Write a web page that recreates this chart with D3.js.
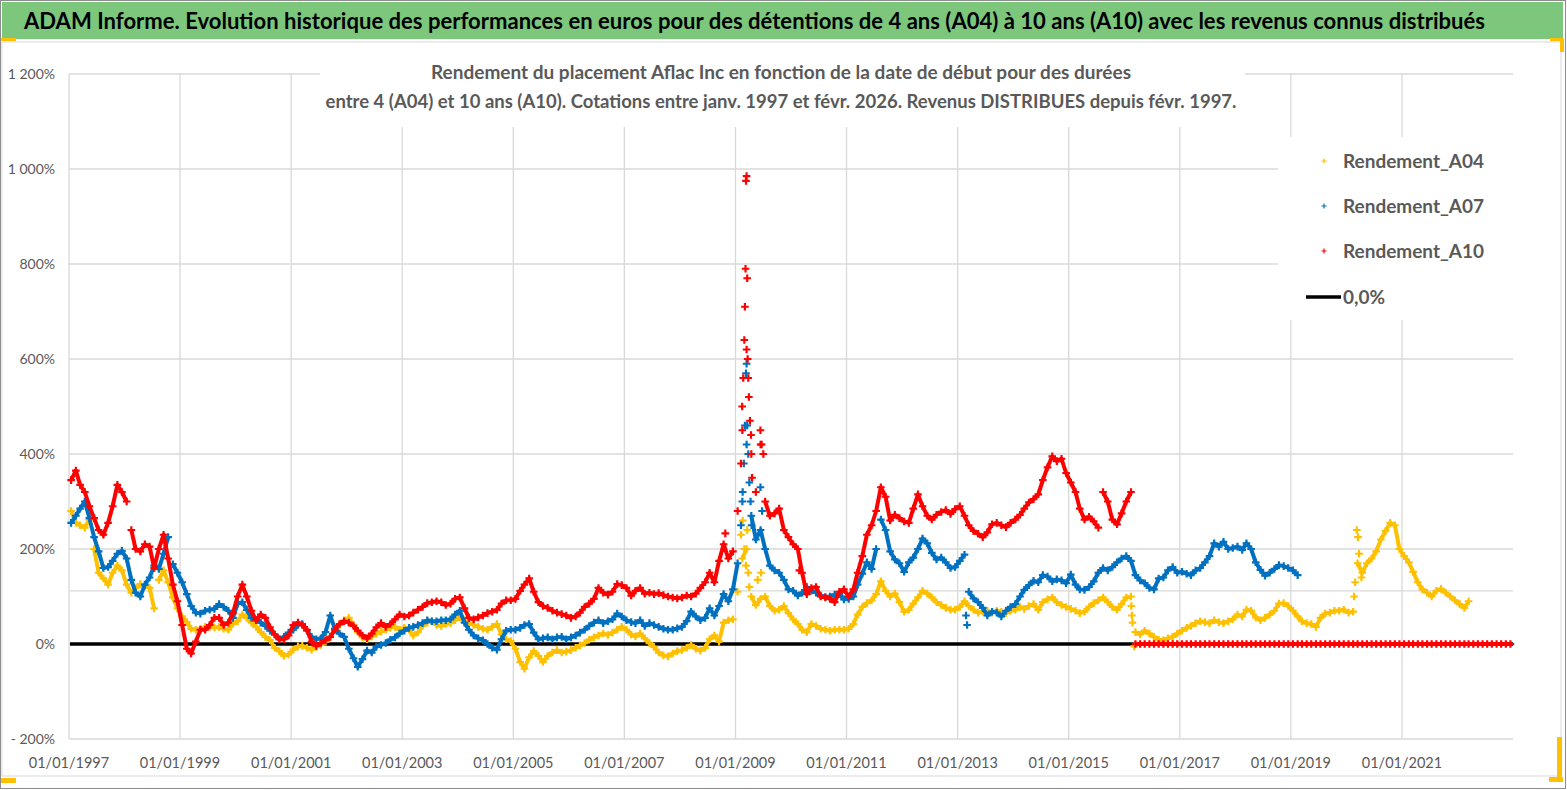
<!DOCTYPE html>
<html>
<head>
<meta charset="utf-8">
<script src="https://cdn.jsdelivr.net/npm/d3@7"></script>
<style>
  body { margin: 0; background: #fff; }
  svg { display: block; font-family: Lato, "Open Sans", sans-serif; }
</style>
</head>
<body>
<svg id="chart" width="1567" height="790"></svg>
<script>
// monthly values (%), first value = Jan 1997
var a04 = [
  280,255,250,245,262,200,150,138,125,150,165,155,
  125,108,118,126,122,118,75,135,155,130,98,75,
  58,46,32,30,32,36,36,35,36,32,30,42,
  48,62,55,45,36,25,15,8,-8,-15,-25,-22,
  -12,-5,-4,-8,-12,-6,-2,5,15,32,40,50,
  55,40,25,14,10,16,22,26,30,34,36,30,
  34,30,18,25,38,45,48,40,38,42,44,50,
  56,50,44,40,36,32,30,36,42,20,10,6,
  -10,-38,-52,-28,-15,-25,-38,-25,-18,-13,-18,-16,
  -13,-8,-3,2,9,14,18,22,19,24,30,36,
  30,20,16,22,12,2,-6,-18,-24,-26,-20,-15,
  -13,-8,-2,-10,-14,-8,10,18,5,45,50,52,
  110,180,200,100,82,95,100,80,70,72,80,65,
  52,42,30,25,42,38,32,30,28,30,30,30,
  32,42,62,78,86,92,105,132,112,100,106,88,
  68,72,85,98,112,106,98,88,82,76,72,72,
  78,90,80,72,66,68,70,66,70,68,65,70,
  72,78,74,80,84,72,88,94,98,88,82,78,
  74,70,65,68,78,86,92,98,88,78,72,84,
  98,100,25,20,28,22,15,9,8,12,15,22,
  28,34,38,44,48,46,44,50,46,44,48,52,
  62,58,72,70,56,50,55,62,70,85,86,80,
  70,58,48,44,42,36,55,64,66,70,70,72,
  66,68,170,150,170,180,195,220,238,255,250,200,
  185,172,152,130,115,108,100,112,116,108,100,92,
  84,76,90
];
var a07 = [
  255,270,285,300,265,225,195,160,162,175,190,196,
  180,135,108,100,125,140,165,158,190,225,168,150,
  130,105,80,66,64,70,72,74,84,78,70,55,
  85,88,72,55,50,45,38,28,20,10,15,24,
  30,40,42,28,15,10,12,25,60,32,22,15,
  -10,-30,-48,-32,-14,-18,-6,-2,2,9,14,22,
  28,34,36,40,44,50,48,48,50,50,52,62,
  70,45,30,18,12,8,0,-8,-12,10,28,30,
  30,34,40,42,24,10,12,14,10,14,15,10,
  14,18,24,30,38,45,50,44,48,52,64,58,
  50,46,44,50,38,44,40,36,32,30,30,33,
  36,48,68,58,50,55,75,60,80,105,90,115,
  170,300,420,270,220,240,200,165,155,150,135,115,
  112,102,108,120,112,108,102,99,100,104,105,94,
  95,100,125,148,172,158,200,262,240,195,178,170,
  152,172,182,200,222,212,192,178,182,172,160,162,
  175,188,110,96,88,76,60,68,66,58,70,78,
  84,100,114,124,133,130,145,142,132,136,134,128,
  146,125,115,114,120,132,150,160,155,162,172,180,
  185,175,145,134,128,118,115,138,140,155,162,150,
  152,148,145,155,160,172,185,212,205,215,200,202,
  205,198,212,200,172,156,144,150,158,166,164,160,
  155,145
];
var a10 = [
  345,365,335,320,290,265,240,230,255,290,335,320,
  300,240,200,195,210,205,160,200,230,180,125,90,
  40,-10,-20,5,30,30,40,55,55,40,45,65,
  100,125,100,70,50,62,55,35,20,10,10,18,
  40,45,40,30,5,-4,2,8,15,30,42,48,
  45,38,28,18,12,22,35,44,36,42,52,62,
  58,60,66,72,78,86,88,90,88,82,85,95,
  98,75,55,52,56,60,65,68,72,85,92,92,
  95,112,125,138,110,88,80,76,70,66,63,60,
  55,58,66,78,85,95,118,108,104,110,126,124,
  118,102,112,118,106,108,105,107,103,100,98,96,
  98,102,100,106,118,130,150,130,175,210,180,195,
  280,450,620,400,320,420,300,270,275,285,240,225,
  210,200,150,105,118,120,100,98,95,88,110,115,
  100,115,150,185,230,250,280,330,310,260,272,265,
  258,255,285,315,290,270,262,272,278,282,274,284,
  290,270,250,238,232,225,235,252,255,250,246,255,
  262,272,285,298,305,315,345,372,395,385,390,360,
  340,320,285,262,268,258,245,320,300,262,252,275,
  300,320
];
// A10 after Feb 2016: no 10-year return yet, plotted at 0 (Mar 2016 .. Dec 2022)
var a10Tail = [
  0,0,0,0,0,0,0,0,0,0,
  0,0,0,0,0,0,0,0,0,0,0,0,
  0,0,0,0,0,0,0,0,0,0,0,0,
  0,0,0,0,0,0,0,0,0,0,0,0,
  0,0,0,0,0,0,0,0,0,0,0,0,
  0,0,0,0,0,0,0,0,0,0,0,0,
  0,0,0,0,0,0,0,0,0,0,0,0
];

// scattered points of the fast moves (decimal year, value)
var a04ExtraT = [2009.10,2009.13,2009.16,2009.19,2009.21,2009.23,2009.25,2009.40,2009.46,2016.13,2016.14,2016.15,2016.18,2020.14,2020.16,2020.19,2020.21,2020.23,2020.27];
var a04ExtraV = [230,260,200,165,240,150,120,135,150,80,60,45,-5,100,130,240,225,190,140];
var a07ExtraT = [2009.10,2009.13,2009.15,2009.17,2009.19,2009.20,2009.21,2009.23,2009.25,2009.27,2009.29,2009.45,2009.48,2013.15,2013.17];
var a07ExtraV = [250,320,380,460,570,590,460,400,340,300,250,330,280,60,40];
var a10ExtraT = [2008.82,2009.10,2009.12,2009.14,2009.16,2009.17,2009.18,2009.19,2009.20,2009.21,2009.22,2009.23,2009.24,2009.26,2009.28,2009.30,2009.45,2009.47,2009.50,2010.15];
var a10ExtraV = [233,380,500,560,640,710,790,975,985,770,600,560,520,470,440,350,450,420,400,155];

var yTicks = [-200,0,200,400,600,800,1000,1200];
var refLines = [112];
var xTickYears = [1997,1999,2001,2003,2005,2007,2009,2011,2013,2015,2017,2019,2021];

var seriesNames = ["Rendement_A04","Rendement_A07","Rendement_A10"];
var seriesColors = ["#FFC000","#0070C0","#FF0000"];

var chartTitle = "ADAM Informe. Evolution historique des performances en euros pour des détentions de 4 ans (A04) à 10 ans (A10) avec les revenus connus distribués";
var subTitle1 = "Rendement du placement Aflac Inc en fonction de la date de début pour des durées";
var subTitle2 = "entre 4 (A04) et 10 ans (A10). Cotations entre janv. 1997 et févr. 2026. Revenus DISTRIBUES depuis févr. 1997.";

function monthDate(i) { return new Date(1997, i, 15); }
function decDate(t) {
  var yr = Math.floor(t);
  return new Date(yr, 0, 1 + Math.round((t - yr) * 365));
}
function fmtPct(v) {
  if (v < 0) return "- " + Math.abs(v) + "%";
  return d3.format(",")(v).replace(",", " ") + "%";
}

var svg = d3.select("#chart");
var gray = "#595959";

var x = d3.scaleTime()
    .domain([new Date(1997,0,1), new Date(2023,0,1)])
    .range([69, 1513]);
var y = d3.scaleLinear()
    .domain([-200, 1200])
    .range([739, 74]);

// frame and title band
svg.append("rect").attr("x",0.5).attr("y",0.5).attr("width",1565).attr("height",788)
    .attr("fill","#fff").attr("stroke","#8c8c8c");
svg.append("rect").attr("x",2).attr("y",2).attr("width",1561).attr("height",37)
    .attr("fill","#7dc77d");
svg.append("rect").attr("x",2).attr("y",42).attr("width",1559).attr("height",734)
    .attr("fill","none").attr("stroke","#d9d9d9");
svg.append("text")
    .attr("x",24).attr("y",29)
    .attr("textLength",1461).attr("lengthAdjust","spacingAndGlyphs")
    .style("font-size","22px").style("font-weight","bold").style("fill","#000")
    .text(chartTitle);

// orange corner marks
var corner = "#FFC000";
svg.append("rect").attr("x",1).attr("y",38).attr("width",15).attr("height",3).attr("fill",corner);
svg.append("rect").attr("x",1550).attr("y",38).attr("width",14).attr("height",3).attr("fill",corner);
svg.append("rect").attr("x",1560).attr("y",38).attr("width",4).attr("height",14).attr("fill",corner);
svg.append("rect").attr("x",1).attr("y",778).attr("width",15).attr("height",5).attr("fill",corner);
svg.append("rect").attr("x",1549).attr("y",777).attr("width",14).attr("height",5).attr("fill",corner);
svg.append("rect").attr("x",1557).attr("y",737).attr("width",5).attr("height",45).attr("fill",corner);

// gridlines
var grid = svg.append("g");
grid.selectAll(".hg").data(yTicks.concat(refLines)).enter().append("line")
    .attr("x1",69).attr("x2",1513)
    .attr("y1",function(d){ return y(d); }).attr("y2",function(d){ return y(d); })
    .attr("stroke","#d9d9d9").attr("stroke-width",1.3);
grid.selectAll(".vg").data(xTickYears).enter().append("line")
    .attr("x1",function(d){ return x(new Date(d,0,1)); })
    .attr("x2",function(d){ return x(new Date(d,0,1)); })
    .attr("y1",y(1200)).attr("y2",y(-200))
    .attr("stroke","#d9d9d9").attr("stroke-width",1.3);

// y axis labels
svg.append("g").selectAll("text").data(yTicks).enter().append("text")
    .attr("x",55).attr("y",function(d){ return y(d) + 5; })
    .attr("text-anchor","end")
    .style("font-size","14px").style("fill",gray)
    .text(fmtPct);

// x axis labels
var fmtDate = d3.timeFormat("%d/%m/%Y");
svg.append("g").selectAll("text").data(xTickYears).enter().append("text")
    .attr("x",function(d){ return x(new Date(d,0,1)); }).attr("y",768)
    .attr("text-anchor","middle")
    .style("font-size","14.5px").style("fill",gray)
    .text(function(d){ return fmtDate(new Date(d,0,1)); });

// subtitle box
svg.append("rect").attr("x",320).attr("y",56).attr("width",925).attr("height",71).attr("fill","#fff");
svg.append("text").attr("x",781).attr("y",79).attr("text-anchor","middle")
    .attr("textLength",700).attr("lengthAdjust","spacingAndGlyphs")
    .style("font-size","18px").style("font-weight","bold").style("fill",gray)
    .text(subTitle1);
svg.append("text").attr("x",781).attr("y",108).attr("text-anchor","middle")
    .attr("textLength",911).attr("lengthAdjust","spacingAndGlyphs")
    .style("font-size","18px").style("font-weight","bold").style("fill",gray)
    .text(subTitle2);

// zero line
svg.append("line")
    .attr("x1",70).attr("x2",1513).attr("y1",y(0)).attr("y2",y(0))
    .attr("stroke","#000").attr("stroke-width",3.5);

// build point lists
function monthly(vals, offset) {
  return vals.map(function(v, i){ return { d: monthDate(i + offset), v: v }; });
}
function extras(ts, vs) {
  return ts.map(function(t, i){ return { d: decDate(t), v: vs[i] }; });
}
var mainPts = [
  monthly(a04, 0),
  monthly(a07, 0),
  monthly(a10, 0).concat(monthly(a10Tail, a10.length))
];
var extraPts = [
  extras(a04ExtraT, a04ExtraV),
  extras(a07ExtraT, a07ExtraV),
  extras(a10ExtraT, a10ExtraV)
];

// the daily markers form a dense band: a thick trace under the monthly markers,
// broken where the value jumps
var band = d3.line()
    .x(function(p){ return x(p.d); })
    .y(function(p){ return y(p.v); });

var cross = "M-3.8,0H3.8M0,-3.8V3.8";
mainPts.forEach(function(list, k) {
  var segs = [[list[0]]];
  for (var i = 1; i < list.length; i++) {
    if (Math.abs(list[i].v - list[i-1].v) > 55) segs.push([]);
    segs[segs.length-1].push(list[i]);
  }
  var g = svg.append("g");
  segs.forEach(function(s){
    if (s.length > 1) {
      g.append("path").attr("d", band(s))
          .attr("fill","none").attr("stroke", seriesColors[k])
          .attr("stroke-width", 4).attr("stroke-linejoin","round");
    }
  });
  g.selectAll("path.m").data(list.concat(extraPts[k])).enter().append("path")
      .attr("class","m")
      .attr("d", cross)
      .attr("transform", function(p){ return "translate(" + x(p.d) + "," + y(p.v) + ")"; })
      .attr("fill","none")
      .attr("stroke", seriesColors[k])
      .attr("stroke-width", 2.2);
});

// legend
svg.append("rect").attr("x",1278).attr("y",137).attr("width",240).attr("height",183).attr("fill","#fff");
var legY = [161, 206, 251];
seriesNames.forEach(function(name, k) {
  svg.append("path").attr("d","M-2.5,0H2.5M0,-2.5V2.5")
      .attr("transform","translate(1324," + legY[k] + ")")
      .attr("stroke", seriesColors[k]).attr("stroke-width",1.2).attr("fill","none");
  svg.append("text").attr("x",1343).attr("y",legY[k] + 7)
      .attr("textLength",141).attr("lengthAdjust","spacingAndGlyphs")
      .style("font-size","19px").style("font-weight","bold").style("fill",gray)
      .text(name);
});
svg.append("line").attr("x1",1306).attr("x2",1341).attr("y1",297).attr("y2",297)
    .attr("stroke","#000").attr("stroke-width",3.5);
svg.append("text").attr("x",1343).attr("y",304)
    .style("font-size","19px").style("font-weight","bold").style("fill",gray)
    .text("0,0%");
</script>
</body>
</html>
